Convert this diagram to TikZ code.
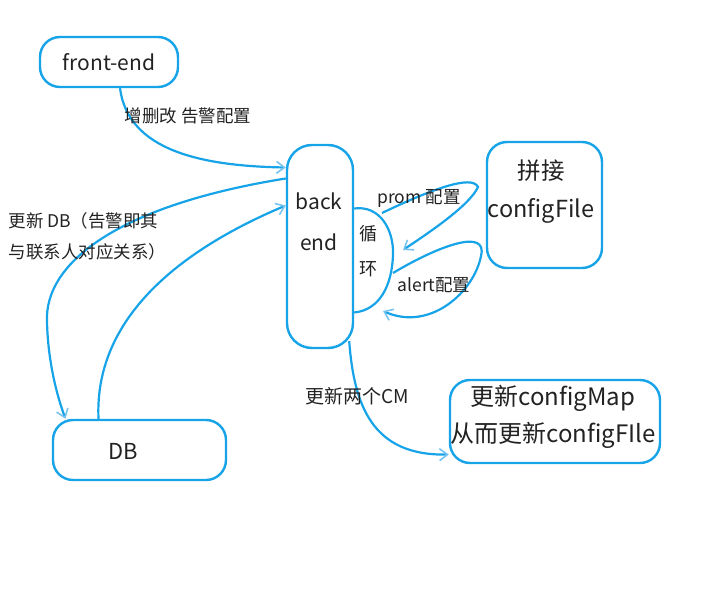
\documentclass[tikz,border=0pt]{standalone}
\usepackage{fontspec}
\setmainfont{Noto Sans CJK SC}
\usetikzlibrary{arrows.meta}
\definecolor{lineblue}{RGB}{22,163,232}
\definecolor{tipblue}{RGB}{120,195,240}
\definecolor{inkgray}{RGB}{34,34,34}
\tikzset{
  box/.style={draw=lineblue, line width=2.4pt, rounded corners=20pt, text=inkgray, align=center, inner sep=0pt},
  flow/.style={draw=lineblue, line width=2.2pt, -{Straight Barb[length=8pt,width=12pt,color=tipblue,line width=1.6pt]}},
  lbl/.style={text=inkgray, font=\fontsize{17.5}{22}\selectfont}
}
\begin{document}
\begin{tikzpicture}[x=1pt, y=-1pt]
    \useasboundingbox (0,0) rectangle (710,599);
    \node[box, minimum width=138pt, minimum height=50pt, font=\fontsize{21}{22}\selectfont] (front) at (109,62) {front-end};
    \node[box, minimum width=66pt, minimum height=203pt, rounded corners=25pt] (back) at (320,246.5) {};
    \node[text=inkgray, font=\fontsize{21}{41}\selectfont, align=center] (backtxt) at (319,222) {back\\end};
    \node[box, minimum width=115pt, minimum height=126pt] (conf) at (544.5,205) {};
    \node[text=inkgray, font=\fontsize{23.5}{38}\selectfont, align=center] (conftxt) at (541,192) {拼接\\configFile};
    \node[box, minimum width=210pt, minimum height=83pt] (cm) at (555,421.5) {};
    \node[text=inkgray, font=\fontsize{24}{37}\selectfont, align=center] (cmtxt) at (553,417) {更新configMap\\从而更新configFIle};
    \node[box, minimum width=173pt, minimum height=60pt] (db) at (139.5,450) {};
    \node[text=inkgray, font=\fontsize{22}{22}\selectfont] (dbtxt) at (123,451) {DB};

    % loop on the right of back end
    \draw[lineblue, line width=2.2pt] ([yshift=38pt]back.east) .. controls (380,205) and (394,230) .. (393,255)
        .. controls (392,285) and (380,310) .. ([yshift=-66pt]back.east);
    \node[text=inkgray, font=\fontsize{18}{35}\selectfont, align=center] (loop) at (368,251) {循\\环};

    \coordinate (promout) at (382,213);
    \coordinate (promin) at (403,250);
    \coordinate (alertout) at (393,273);
    \coordinate (alertin) at (383,311);

    \path[flow] ([xshift=11pt]front.south) .. controls (128,150) and (200,166) .. ([yshift=79pt]back.west);
    \path[flow] ([yshift=68pt]back.west) .. controls (120,205) and (44,262) .. (47,322)
        .. controls (48,362) and (57,396) .. ([xshift=-74pt]db.north);
    \path[flow] ([xshift=-41pt]db.north) .. controls (94,318) and (180,250) .. ([yshift=41pt]back.west);
    \path[flow] (promout) .. controls (430,190) and (472,174) .. (478,187) .. controls (470,205) and (430,232) .. (promin);
    \path[flow] (alertout) .. controls (440,245) and (488,228) .. (481,256) .. controls (474,292) and (430,332) .. (alertin);
    \path[flow] ([xshift=-5pt,yshift=8pt]back.south east) .. controls (354,405) and (372,456) .. ([yshift=-33pt]cm.west);

    \node[lbl] (l1) at (188,116) {增删改 告警配置};
    \node[lbl, anchor=west, align=left, font=\fontsize{17.5}{31}\selectfont] (l2) at (5,236) {更新 DB（告警即其\\与联系人对应关系）};
    \node[lbl] (l3) at (419,198) {prom 配置};
    \node[lbl] (l4) at (434,285) {alert配置};
    \node[lbl, font=\fontsize{19}{22}\selectfont] (l5) at (357,396) {更新两个CM};
\end{tikzpicture}
\end{document}
